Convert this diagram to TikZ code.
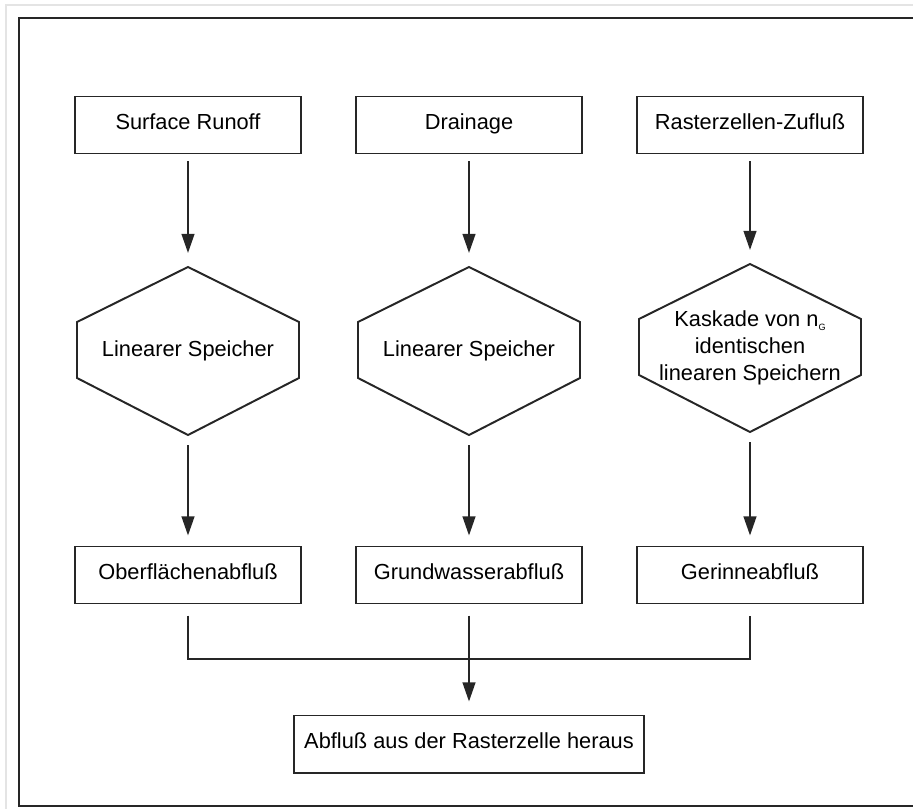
\documentclass[tikz,border=0pt]{standalone}
\usepackage{fontspec}
\setmainfont{Liberation Sans}
\usepackage{tikz}
\usetikzlibrary{arrows.meta, positioning, calc}
\definecolor{flowgray}{HTML}{262626}
\definecolor{pagegray}{HTML}{E4E4E4}

\tikzset{
  flowbox/.style={draw=flowgray, line width=1.4pt, minimum width=5.625cm, minimum height=1.425cm, inner sep=0pt, text height=1.75ex, text depth=0.45ex},
  hexline/.style={draw=flowgray, line width=1.4pt, line join=miter},
  flowline/.style={draw=flowgray, line width=1.4pt},
  flowarrow/.style={flowline, -{Triangle[length=0.48cm, width=0.32cm]}}
}

\begin{document}
\begin{tikzpicture}[x=0.025cm, y=-0.025cm, font=\fontsize{15.5}{19}\selectfont]
    \useasboundingbox (0,0) rectangle (913,808);
    \clip (0,0) rectangle (913,808);
    % page frame
    \draw[pagegray, line width=1.2pt] (6,5) rectangle (960,960);
    \draw[flowgray, line width=1.6pt] (19,18) rectangle (960,806);

    % top row
    \node[flowbox] (sr) at (188,125) {Surface Runoff};
    \node[flowbox] (dr) at (469,125) {Drainage};
    \node[flowbox] (rz) at (750,125) {Rasterzellen-Zufluß};

    % storage hexagons
    \node (hexA) at (188,351) {Linearer Speicher};
    \node (hexB) at (469,351) {Linearer Speicher};
    \node[align=center] (hexC) at (750,348) {Kaskade von n\raisebox{-0.35ex}{\fontsize{6.5}{7}\selectfont G}\\identischen\\linearen Speichern};
    \foreach \h in {hexA,hexB,hexC} {
      \draw[hexline] ($(\h)+(0,-84)$) coordinate (\h-top) -- ++(111,55) -- ++(0,56)
        -- ++(-111,57) coordinate (\h-bot) -- ++(-111,-57) -- ++(0,-56) -- cycle;
    }

    % outflow boxes
    \node[flowbox] (oa) at (188,575) {Oberflächenabfluß};
    \node[flowbox] (ga) at (469,575) {Grundwasserabfluß};
    \node[flowbox] (ra) at (750,575) {Gerinneabfluß};
    \node[flowbox, minimum width=8.75cm] (ab) at (469,744) {Abfluß aus der Rasterzelle heraus};
    \coordinate (join) at (469,659);

    % arrows
    \draw[flowarrow, shorten <=0.175cm, shorten >=0.35cm] (sr) -- (hexA-top);
    \draw[flowarrow, shorten <=0.175cm, shorten >=0.35cm] (dr) -- (hexB-top);
    \draw[flowarrow, shorten <=0.175cm, shorten >=0.35cm] (rz) -- (hexC-top);
    \draw[flowarrow, shorten <=0.25cm, shorten >=0.25cm] (hexA-bot) -- (oa);
    \draw[flowarrow, shorten <=0.25cm, shorten >=0.25cm] (hexB-bot) -- (ga);
    \draw[flowarrow, shorten <=0.25cm, shorten >=0.25cm] (hexC-bot) -- (ra);
    \draw[flowline] ([yshift=-0.275cm]oa.south) |- (join) -| ([yshift=-0.275cm]ra.south);
    \draw[flowarrow, shorten <=0.275cm, shorten >=0.325cm] (ga) -- (ab);
  \end{tikzpicture}
\end{document}
